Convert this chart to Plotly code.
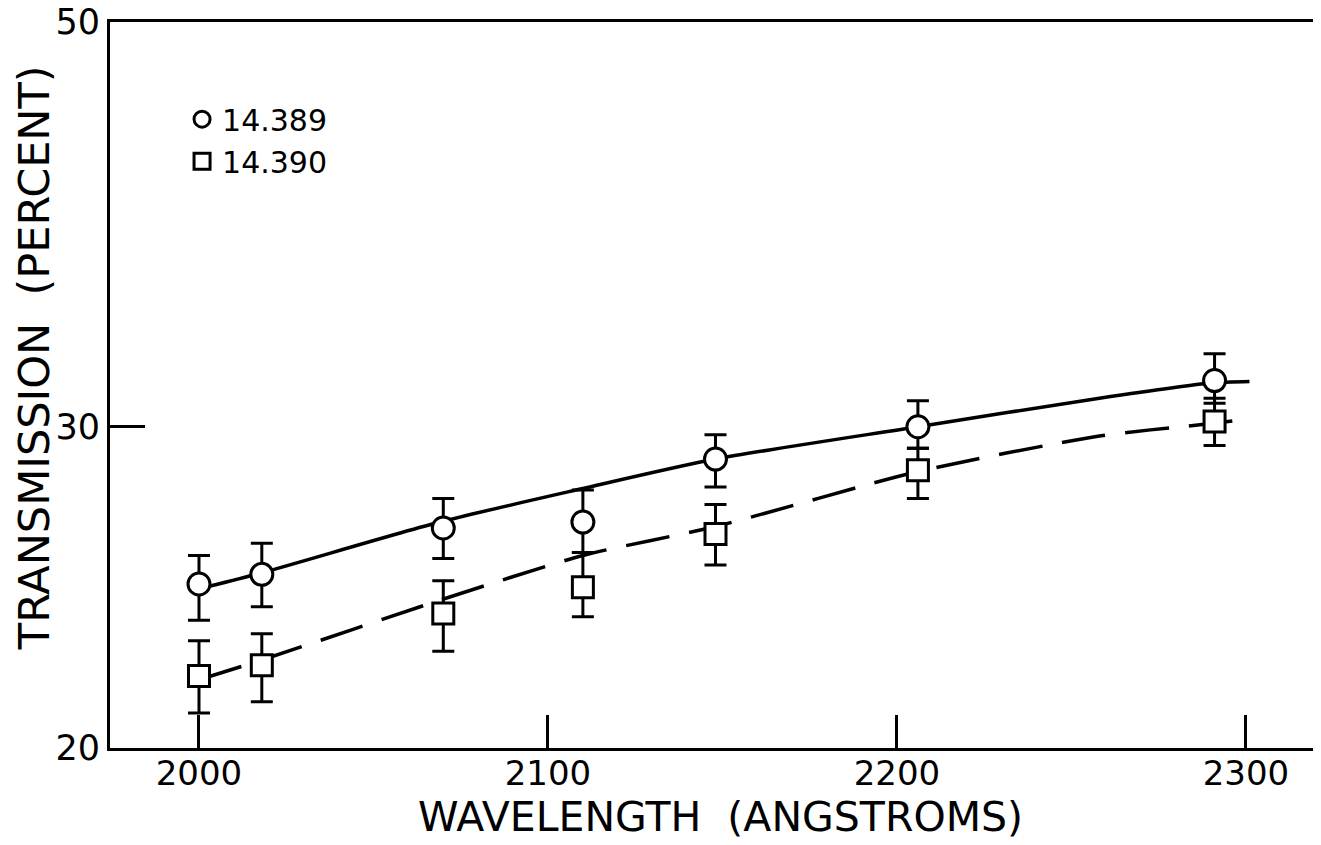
import plotly.graph_objects as go

# measured points (wavelength in angstroms, transmission in percent)
wl = [2000, 2018, 2070, 2110, 2148, 2206, 2291]

t_389 = [24.6, 24.9, 26.4, 26.6, 28.8, 30.0, 31.8]
t_389_hi = [25.5, 25.9, 27.4, 27.7, 29.7, 31.0, 32.9]
t_389_lo = [23.5, 23.9, 25.4, 25.6, 27.8, 29.2, 30.9]

t_390 = [21.9, 22.2, 23.7, 24.5, 26.2, 28.4, 30.2]
t_390_hi = [22.9, 23.1, 24.7, 25.6, 27.2, 29.2, 31.1]
t_390_lo = [20.9, 21.2, 22.6, 23.6, 25.2, 27.4, 29.3]

# smooth curves drawn through the points
fit_wl = [2000, 2018, 2069, 2110, 2148, 2206, 2258, 2290, 2301]
fit_389 = [24.45, 24.95, 26.6, 27.75, 28.8, 30.0, 31.1, 31.7, 31.76]
fit_390 = [21.8, 22.35, 24.1, 25.5, 26.45, 28.35, 29.65, 30.12, 30.3]

x_title = "WAVELENGTH  (ANGSTROMS)"
y_title = "TRANSMISSION  (PERCENT)"

FONT = "DejaVu Sans"
INK = "black"

fig = go.Figure()

fig.add_trace(go.Scatter(x=fit_wl, y=fit_389, mode="lines", line_shape="spline",
                         line=dict(color=INK, width=3.5, smoothing=0.7),
                         showlegend=False, hoverinfo="skip"))
fig.add_trace(go.Scatter(x=fit_wl, y=fit_390, mode="lines", line_shape="spline",
                         line=dict(color=INK, width=3.5, dash="44px,20px", smoothing=0.7),
                         showlegend=False, hoverinfo="skip"))


def err(y, hi, lo):
    return dict(type="data", symmetric=False,
                array=[h - v for h, v in zip(hi, y)],
                arrayminus=[v - l for l, v in zip(lo, y)],
                color=INK, thickness=3, width=11)


fig.add_trace(go.Scatter(x=wl, y=t_389, mode="markers", name="14.389",
                         marker=dict(symbol="circle", size=22, color="white",
                                     line=dict(color=INK, width=3)),
                         error_y=err(t_389, t_389_hi, t_389_lo)))
fig.add_trace(go.Scatter(x=wl, y=t_390, mode="markers", name="14.390",
                         marker=dict(symbol="square", size=21, color="white",
                                     line=dict(color=INK, width=3)),
                         error_y=err(t_390, t_390_hi, t_390_lo)))

# axis titles as annotations so they sit where the original has them
fig.add_annotation(text=x_title, xref="paper", yref="paper", x=0.5045, y=0,
                   yanchor="middle", yshift=-69, showarrow=False,
                   font=dict(size=41))
fig.add_annotation(text=y_title, xref="paper", yref="paper", x=0, y=0.537,
                   xanchor="center", xshift=-76, textangle=-90, showarrow=False,
                   font=dict(size=43))

fig.update_layout(
    width=1313, height=837,
    margin=dict(l=102, r=0, t=14, b=97),
    paper_bgcolor="white", plot_bgcolor="white",
    font=dict(family=FONT, color=INK, size=30),
    legend=dict(x=0.0595, y=0.902, xanchor="left", yanchor="top",
                font=dict(size=30), bgcolor="rgba(0,0,0,0)",
                itemwidth=30, tracegroupgap=0),
    xaxis=dict(
        range=[1974.5, 2321.5],
        tickvals=[2000, 2100, 2200, 2300],
        ticks="inside", ticklen=33, tickwidth=3, tickcolor=INK,
        showline=True, linecolor=INK, linewidth=3, mirror=True,
        showgrid=False, zeroline=False, automargin=False,
        tickfont=dict(size=34), ticklabelstandoff=-7,
        ticklabeloverflow="allow",
    ),
    yaxis=dict(
        type="log",
        range=[1.30102, 1.69900],
        tickvals=[20, 30, 50],
        ticktext=["20", "30", "50"],
        ticks="inside", ticklen=35, tickwidth=3, tickcolor=INK,
        showline=True, linecolor=INK, linewidth=3,
        showgrid=False, zeroline=False, automargin=False,
        tickfont=dict(size=35), ticklabeloverflow="allow",
    ),
)

fig.write_html("out.html")
